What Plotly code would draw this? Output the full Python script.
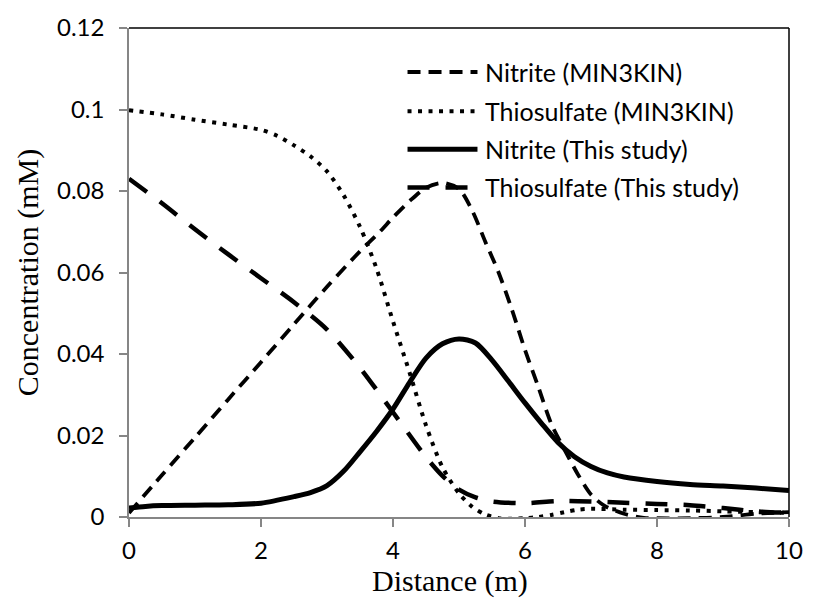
import plotly.graph_objects as go

# ---- data ----
x_nit_min = [0, 0.5, 1, 1.5, 2, 2.5, 3, 3.5, 3.8, 4.0, 4.25, 4.5, 4.75, 5.0, 5.2, 5.4, 5.6, 5.8,
             6.0, 6.2, 6.4, 6.6, 6.8, 7.0, 7.2, 7.5, 7.8, 8.0, 8.5, 9.0, 9.5, 10]
y_nit_min = [0.001, 0.0103, 0.0195, 0.0288, 0.038, 0.0473, 0.0565, 0.0652, 0.0700, 0.0735, 0.0775,
             0.0808, 0.0820, 0.0805, 0.0752, 0.0675, 0.0600, 0.0510, 0.0410, 0.0320, 0.0228, 0.0165,
             0.0105, 0.0055, 0.0028, 0.0008, -0.0002, -0.0003, -0.0003, 0.0, 0.0008, 0.0012]

x_thio_min = [0, 0.5, 1, 1.5, 2, 2.25, 2.5, 2.75, 3.0, 3.25, 3.5, 3.75, 4.0, 4.25, 4.5, 4.75, 5.0,
              5.2, 5.4, 5.6, 5.8, 6.0, 6.2, 6.4, 6.6, 6.8, 7.0, 7.5, 8.0, 8.5, 9.0, 9.5, 10]
y_thio_min = [0.0998, 0.0988, 0.0975, 0.0963, 0.0950, 0.0935, 0.0912, 0.0885, 0.0848, 0.0790,
              0.0712, 0.0610, 0.0480, 0.0355, 0.0225, 0.0122, 0.0058, 0.0025, 0.0006, -0.0003,
              -0.0004, -0.0003, 0.0, 0.0005, 0.0012, 0.0018, 0.0020, 0.0018, 0.0017, 0.0016,
              0.0014, 0.0012, 0.0010]

x_nit_this = [0, 0.25, 0.5, 1, 1.5, 2, 2.5, 2.75, 3.0, 3.25, 3.5, 3.75, 4.0, 4.25, 4.5, 4.75,
              5.0, 5.25, 5.5, 5.75, 6.0, 6.25, 6.5, 6.75, 7.0, 7.25, 7.5, 8.0, 8.5, 9.0, 9.5, 10]
y_nit_this = [0.0022, 0.0026, 0.0028, 0.0029, 0.0030, 0.0034, 0.0050, 0.0060, 0.0077, 0.0112,
              0.0160, 0.0210, 0.0265, 0.0330, 0.0390, 0.0425, 0.0437, 0.0427, 0.0385, 0.0333,
              0.0280, 0.0230, 0.0183, 0.0148, 0.0124, 0.0108, 0.0098, 0.0087, 0.0080, 0.0076,
              0.0071, 0.0065]

x_thio_this = [0, 0.5, 1, 1.5, 2, 2.5, 3, 3.5, 4.0, 4.5, 4.75, 5.0, 5.25, 5.5, 6.0, 6.5,
               7.0, 7.5, 8.0, 8.5, 9.0, 9.5, 10]
y_thio_this = [0.083, 0.0770, 0.0706, 0.0645, 0.0586, 0.0527, 0.0460, 0.0366, 0.0257, 0.0147,
               0.0101, 0.0067, 0.0048, 0.0038, 0.0034, 0.0039, 0.0038, 0.0035, 0.0032,
               0.0029, 0.0022, 0.0014, 0.0010]

series_names = ["Nitrite (MIN3KIN)", "Thiosulfate (MIN3KIN)", "Nitrite (This study)",
                "Thiosulfate (This study)"]

x_ticks = [0, 2, 4, 6, 8, 10]
y_ticks = [0, 0.02, 0.04, 0.06, 0.08, 0.1, 0.12]
y_tick_labels = ["0", "0.02", "0.04", "0.06", "0.08", "0.1", "0.12"]

# ---- styles ----
styles = [
    dict(color="black", width=3.8, dash="13px,8px"),
    dict(color="black", width=4, dash="4px,6.5px"),
    dict(color="black", width=5, dash="solid"),
    dict(color="black", width=4.5, dash="22px,16px"),
]

data = [(x_nit_min, y_nit_min), (x_thio_min, y_thio_min), (x_nit_this, y_nit_this),
        (x_thio_this, y_thio_this)]

fig = go.Figure()
for (xs, ys), name, st in zip(data, series_names, styles):
    fig.add_trace(go.Scatter(x=xs, y=ys, mode="lines", name=name, line=st,
                             line_shape="spline", line_smoothing=0.8, showlegend=False,
                             cliponaxis=False))

sans = "Lato, Noto Sans, sans-serif"
serif = "Liberation Serif, Times New Roman, serif"
tick_font = dict(family=sans, size=24, color="black")
title_font = dict(family=serif, size=30, color="black")

fig.update_layout(
    width=815, height=599,
    margin=dict(l=129, r=16, t=17, b=82),
    plot_bgcolor="white", paper_bgcolor="white",
    xaxis=dict(range=[0, 10], tickvals=x_ticks, ticks="outside", ticklen=8, tickwidth=1.5,
               tickcolor="#868686", showline=True, linecolor="#868686", linewidth=1.5,
               showgrid=False, zeroline=False, tickfont=tick_font, ticklabelstandoff=3),
    yaxis=dict(range=[0, 0.12], tickvals=y_ticks, ticktext=y_tick_labels, ticks="outside",
               ticklen=8, tickwidth=1.5, tickcolor="#868686", showline=True,
               linecolor="#868686", linewidth=1.5, showgrid=False, zeroline=False,
               tickfont=tick_font, ticklabelstandoff=10,
               title=dict(text="Concentration (mM)", font=title_font, standoff=10)),
    showlegend=False,
)

# x-axis title (slightly left of centre, as in the original)
fig.add_annotation(xref="paper", yref="paper", x=0.486, y=0, yshift=-64, text="Distance (m)",
                   showarrow=False, xanchor="center", yanchor="middle",
                   font=dict(family=serif, size=30, color="black"))

# top and right border of plot area
fig.add_shape(type="line", xref="paper", yref="paper", x0=0, x1=1, y0=1, y1=1,
              line=dict(color="black", width=1.5))
fig.add_shape(type="line", xref="paper", yref="paper", x0=1, x1=1, y0=0, y1=1,
              line=dict(color="black", width=1.5))

# manual legend (line samples + labels)
leg_x0, leg_x1 = 0.422, 0.528
leg_rows = [0.91, 0.83, 0.752, 0.674]
for name, st, yy in zip(series_names, styles, leg_rows):
    fig.add_shape(type="line", xref="paper", yref="paper", x0=leg_x0, x1=leg_x1, y0=yy, y1=yy,
                  line=dict(color="black", width=st["width"], dash=st["dash"]))
    fig.add_annotation(xref="paper", yref="paper", x=leg_x1 + 0.008, y=yy, text=name,
                       showarrow=False, xanchor="left", yanchor="middle",
                       font=dict(family=sans, size=25, color="black"))

fig.write_html("out.html")
